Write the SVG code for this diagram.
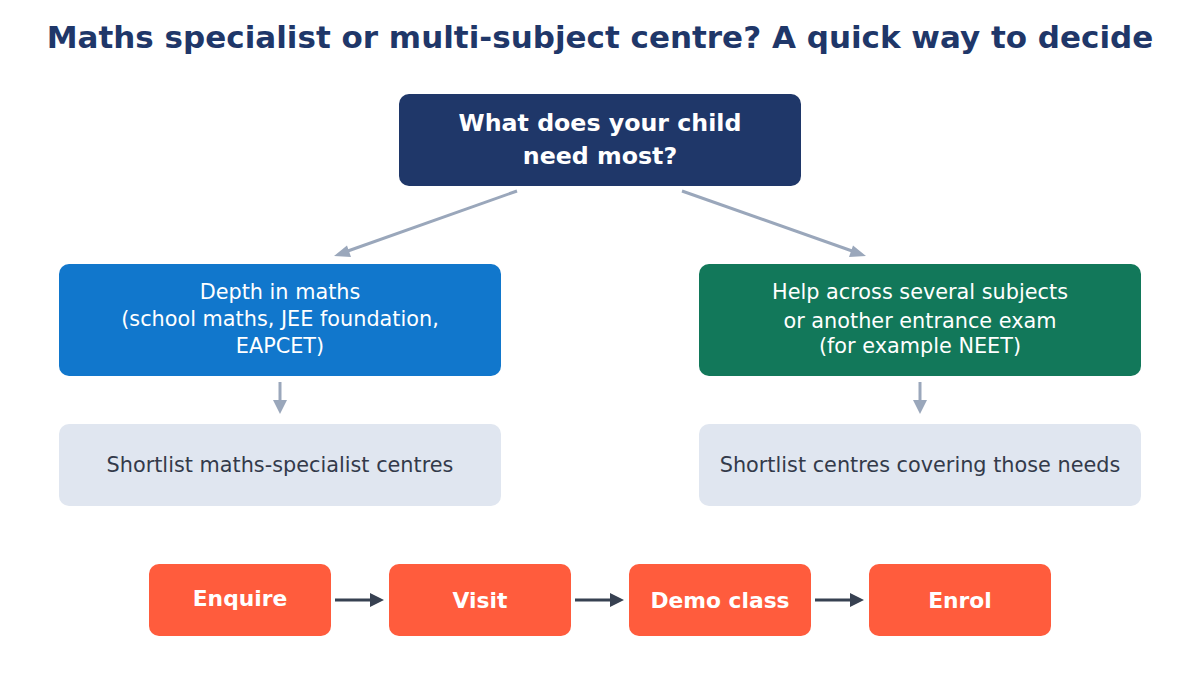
<svg xmlns="http://www.w3.org/2000/svg" width="1200" height="675" viewBox="0 0 1200 675">
<style>
text{font-family:"DejaVu Sans",sans-serif;text-anchor:middle}
.t{font-size:31px;font-weight:bold;fill:#1f3769}
.q{font-size:23.7px;font-weight:bold;fill:#fff}
.w{font-size:20.8px;fill:#fff}
.l{font-size:20.8px;fill:#333a4a}
.s{font-size:21.8px;font-weight:bold;fill:#fff}
.o{fill:#ff5c3d}
.g{stroke:#9aa7bb;stroke-width:3;fill:none}
.d{stroke:#374151;stroke-width:3;fill:none}
.gh{fill:#9aa7bb}
.dh{fill:#374151}
</style>
<text class="t" x="600" y="48">Maths specialist or multi-subject centre? A quick way to decide</text>
<g id="connectors">
<line class="g" x1="517" y1="191" x2="345" y2="252"/>
<polygon class="gh" points="334,256 347,245.5 351,257"/>
<line class="g" x1="682" y1="191" x2="855" y2="252"/>
<polygon class="gh" points="866,256 853,245.5 849,257"/>
<line class="g" x1="280" y1="382" x2="280" y2="402"/>
<polygon class="gh" points="280,414 273,400 287,400"/>
<line class="g" x1="920" y1="382" x2="920" y2="402"/>
<polygon class="gh" points="920,414 913,400 927,400"/>
<line class="d" x1="335" y1="600" x2="372" y2="600"/>
<polygon class="dh" points="384,600 370,593 370,607"/>
<line class="d" x1="575" y1="600" x2="612" y2="600"/>
<polygon class="dh" points="624,600 610,593 610,607"/>
<line class="d" x1="815" y1="600" x2="852" y2="600"/>
<polygon class="dh" points="864,600 850,593 850,607"/>
</g>
<g id="q"><rect x="399" y="94" width="402" height="92" rx="10" fill="#1f3769"/><text class="q" x="600" y="131">What does your child</text><text class="q" x="600" y="164">need most?</text></g>
<g id="left"><rect x="59" y="264" width="442" height="112" rx="10" fill="#1177cc"/><text class="w" x="280" y="299">Depth in maths</text><text class="w" x="280" y="326">(school maths, JEE foundation,</text><text class="w" x="280" y="353">EAPCET)</text></g>
<g id="right"><rect x="699" y="264" width="442" height="112" rx="10" fill="#12785a"/><text class="w" x="920" y="299">Help across several subjects</text><text class="w" x="920" y="328">or another entrance exam</text><text class="w" x="920" y="353">(for example NEET)</text></g>
<g id="sl"><rect x="59" y="424" width="442" height="82" rx="10" fill="#e0e6f0"/><text class="l" x="280" y="472">Shortlist maths-specialist centres</text></g>
<g id="sr"><rect x="699" y="424" width="442" height="82" rx="10" fill="#e0e6f0"/><text class="l" x="920" y="472">Shortlist centres covering those needs</text></g>
<g id="enquire"><rect class="o" x="149" y="564" width="182" height="72" rx="10"/><text class="s" x="240" y="606">Enquire</text></g>
<g id="visit"><rect class="o" x="389" y="564" width="182" height="72" rx="10"/><text class="s" x="480" y="608">Visit</text></g>
<g id="demo"><rect class="o" x="629" y="564" width="182" height="72" rx="10"/><text class="s" x="720" y="608">Demo class</text></g>
<g id="enrol"><rect class="o" x="869" y="564" width="182" height="72" rx="10"/><text class="s" x="960" y="608">Enrol</text></g>
</svg>
